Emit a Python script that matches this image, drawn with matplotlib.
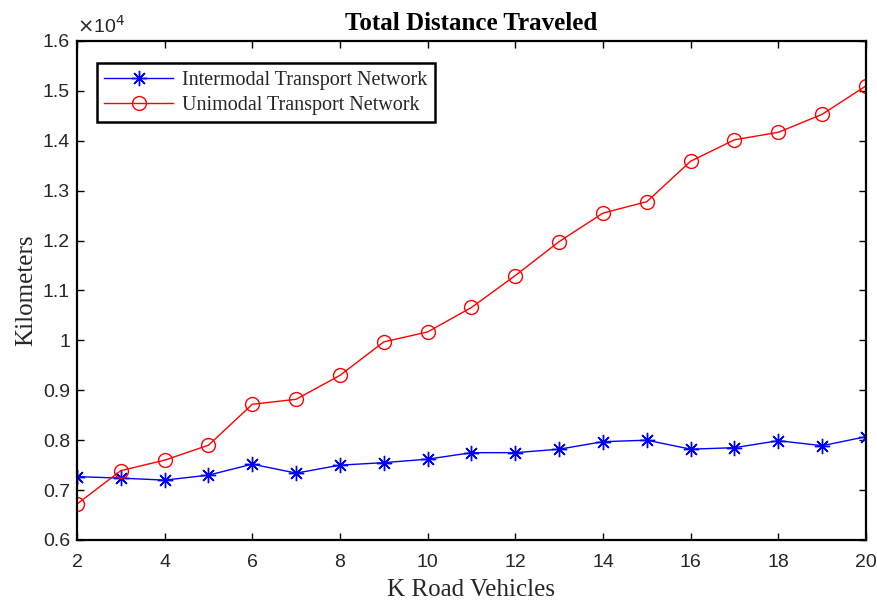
"""Total distance traveled: intermodal vs unimodal transport network."""

import matplotlib

matplotlib.use("Agg")
import matplotlib.pyplot as plt
from matplotlib.ticker import FuncFormatter, MultipleLocator

# Data
K_VEHICLES = list(range(2, 21))
INTERMODAL_KM = [
    7270, 7240, 7200, 7300, 7520, 7340, 7500, 7550, 7620, 7750,
    7750, 7820, 7970, 8000, 7820, 7850, 7990, 7890, 8070,
]
UNIMODAL_KM = [
    6720, 7390, 7600, 7900, 8720, 8820, 9300, 9970, 10170, 10660,
    11300, 11980, 12550, 12780, 13590, 14020, 14170, 14530, 15100,
]
LABELS = ["Intermodal Transport Network", "Unimodal Transport Network"]

SERIF = ["Liberation Serif", "DejaVu Serif"]
SANS = ["Liberation Sans", "DejaVu Sans"]
TICK_GREY = "#262626"

fig = plt.figure(figsize=(8.78, 6.0), dpi=100)
ax = fig.add_axes([0.0877, 0.1, 0.8986, 0.8317])

ax.plot(
    K_VEHICLES, INTERMODAL_KM, color="blue", lw=1.0,
    marker=(8, 2, 0), markersize=11, markeredgewidth=1.0, label=LABELS[0],
)
ax.plot(
    K_VEHICLES, UNIMODAL_KM, color="red", lw=1.0,
    marker="o", markersize=10, markerfacecolor="none", markeredgewidth=1.0,
    label=LABELS[1],
)

ax.set_xlim(2, 20)
ax.set_ylim(6000, 16000)
ax.xaxis.set_major_locator(MultipleLocator(2))
ax.yaxis.set_major_locator(MultipleLocator(1000))
ax.yaxis.set_major_formatter(FuncFormatter(lambda v, _: f"{v / 1e4:g}"))

ax.tick_params(direction="in", top=True, right=True, length=5, width=1.0,
               labelsize=14, labelcolor=TICK_GREY)
ax.tick_params(axis="x", pad=10)
ax.tick_params(axis="y", pad=5)
for lbl in ax.get_xticklabels() + ax.get_yticklabels():
    lbl.set_family(SANS)
for spine in ax.spines.values():
    spine.set_linewidth(1.6)

ax.text(0.0, 1.008, r"$\times$10$^4$", transform=ax.transAxes, fontsize=14,
        family=SANS, color=TICK_GREY, va="bottom", ha="left")

ax.set_title("Total Distance Traveled", family=SERIF, fontsize=18,
             fontweight="bold", pad=8)
ax.set_xlabel("K Road Vehicles", family=SERIF, fontsize=18, labelpad=6,
              color=TICK_GREY)
ax.set_ylabel("Kilometers", family=SERIF, fontsize=18, labelpad=4,
              color=TICK_GREY)

leg = ax.legend(
    loc="upper left", bbox_to_anchor=(0.025, 0.955), borderaxespad=0,
    prop={"family": SERIF, "size": 14.5}, fancybox=False, framealpha=1,
    edgecolor="black", handlelength=3.45, borderpad=0.35, labelspacing=0.3,
    handletextpad=0.45,
)
leg.get_frame().set_linewidth(1.8)
for txt in leg.get_texts():
    txt.set_color(TICK_GREY)

fig.savefig("out.png", dpi=100)
